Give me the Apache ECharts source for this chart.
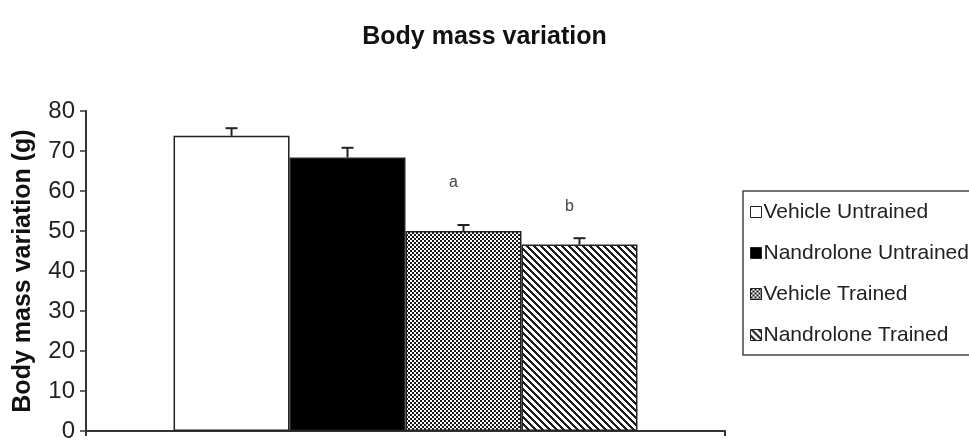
<!DOCTYPE html>
<html>
<head>
<meta charset="utf-8">
<script src="https://cdn.jsdelivr.net/npm/echarts@6/dist/echarts.min.js"></script>
<style>html,body{margin:0;padding:0;background:#fff}#c{width:969px;height:443px}</style>
</head>
<body>
<div id="c"></div>
<script>
// ---- data ----
const categories = [''];
const seriesNames = ['Vehicle Untrained', 'Nandrolone Untrained', 'Vehicle Trained', 'Nandrolone Trained'];
const means = [73.8, 68.4, 50.0, 46.6];
const upperErr = [75.7, 70.8, 51.5, 48.2];
const letters = ['', '', 'a', 'b'];
const letterValues = [null, null, 62.1, 56.2];
const yTicks = [0, 10, 20, 30, 40, 50, 60, 70, 80];

const SANS = '"Liberation Sans", Arial, sans-serif';

// ---- patterns ----
function checker() {
  const c = document.createElement('canvas'); c.width = 4; c.height = 4;
  const g = c.getContext('2d');
  g.fillStyle = '#fff'; g.fillRect(0, 0, 4, 4);
  g.fillStyle = '#1a1a1a'; g.fillRect(0, 0, 2, 2); g.fillRect(2, 2, 2, 2);
  return c;
}
function stripes() {
  const n = 7;
  const c = document.createElement('canvas'); c.width = n; c.height = n;
  const g = c.getContext('2d');
  const img = g.createImageData(n, n);
  for (let y = 0; y < n; y++) for (let x = 0; x < n; x++) {
    const on = ((x - y + n * 2) % n) < 3;
    const v = on ? 30 : 255;
    const k = (y * n + x) * 4;
    img.data[k] = v; img.data[k + 1] = v; img.data[k + 2] = v; img.data[k + 3] = 255;
  }
  g.putImageData(img, 0, 0);
  return c;
}
const fills = ['#ffffff', '#000000', { image: checker(), repeat: 'repeat' }, { image: stripes(), repeat: 'repeat' }];
const GAP = 0.274;

const chart = echarts.init(document.getElementById('c'), null, { renderer: 'canvas' });

const barSeries = seriesNames.map((name, i) => ({
  name: name,
  type: 'bar',
  data: [means[i]],
  barGap: '0%',
  barCategoryGap: (GAP * 100) + '%',
  itemStyle: { color: fills[i], borderColor: '#222', borderWidth: 1.5 },
  emphasis: { disabled: true },
  z: 2
}));

const errData = means.map((m, i) => [0, m, upperErr[i], i]);

const errSeries = {
  type: 'custom',
  name: 'err',
  data: errData,
  encode: { x: 0, y: [1, 2] },
  z: 5,
  silent: true,
  renderItem: function (params, api) {
    const idx = api.value(3);
    const base = api.coord([0, api.value(1)]);
    const top = api.coord([0, api.value(2)]);
    const bandW = api.size([1, 0])[0];
    const barW = bandW * (1 - GAP) / 4;
    const x = base[0] - 2 * barW + (idx + 0.5) * barW;
    const children = [
      { type: 'line', shape: { x1: x, y1: base[1], x2: x, y2: top[1] }, style: { stroke: '#222', lineWidth: 2 } },
      { type: 'line', shape: { x1: x - 6, y1: top[1], x2: x + 6, y2: top[1] }, style: { stroke: '#222', lineWidth: 2 } }
    ];
    if (letters[idx]) {
      const lp = api.coord([0, letterValues[idx]]);
      children.push({ type: 'text', x: x - 10, y: lp[1], style: { text: letters[idx], fill: '#444', font: '16px "Liberation Sans", Arial, sans-serif', align: 'center', verticalAlign: 'middle' } });
    }
    return { type: 'group', children: children };
  }
};

chart.setOption({
  animation: false,
  backgroundColor: '#fff',
  title: {
    text: 'Body mass variation',
    left: 'center',
    top: 20,
    textStyle: { fontFamily: SANS, fontWeight: 'bold', fontSize: 25, color: '#111' }
  },
  legend: {
    data: seriesNames,
    orient: 'vertical',
    left: 743,
    top: 191,
    padding: [10, 40, 9, 7],
    itemGap: 19,
    itemWidth: 11,
    itemHeight: 11,
    icon: 'rect',
    borderColor: '#444',
    borderWidth: 1.5,
    selectedMode: false,
    itemStyle: { borderColor: '#222', borderWidth: 1 },
    textStyle: { fontFamily: SANS, fontSize: 21, color: '#222', lineHeight: 22, padding: [0, 0, 0, -3] }
  },
  grid: { left: 86, right: 244, top: 111, bottom: 5, containLabel: false },
  xAxis: {
    type: 'category',
    data: categories,
    axisLine: { lineStyle: { color: '#333', width: 2 } },
    axisTick: { show: true, length: 5, lineStyle: { color: '#333', width: 2 } },
    axisLabel: { show: false },
    splitLine: { show: false }
  },
  yAxis: {
    type: 'value',
    min: yTicks[0],
    max: yTicks[yTicks.length - 1],
    interval: 10,
    name: 'Body mass variation (g)',
    nameLocation: 'middle',
    nameRotate: 90,
    nameGap: 50,
    nameTextStyle: { fontFamily: SANS, fontWeight: 'bold', fontSize: 25, color: '#111' },
    axisLine: { show: true, lineStyle: { color: '#333', width: 2 } },
    axisTick: { show: true, length: 6, lineStyle: { color: '#333', width: 1.5 } },
    axisLabel: { margin: 11, fontFamily: SANS, fontSize: 24, color: '#222' },
    splitLine: { show: false }
  },
  series: barSeries.concat([errSeries])
});
</script>
</body>
</html>
